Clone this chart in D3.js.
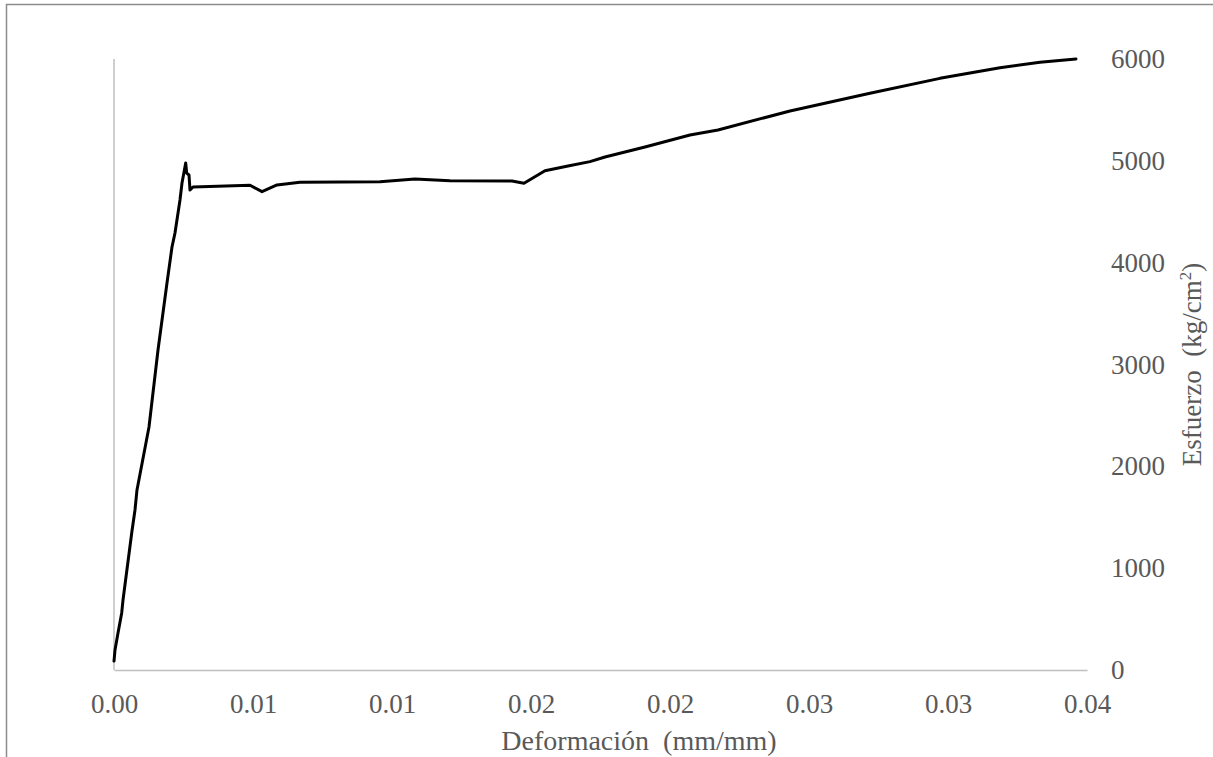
<!DOCTYPE html>
<html>
<head>
<meta charset="utf-8">
<script src="https://cdn.jsdelivr.net/npm/d3@7"></script>
<style>
  html, body { margin: 0; padding: 0; background: #fff; }
  svg { display: block; }
</style>
</head>
<body>
<script>
// ---- Data ----
const strain = [0, 0.000036, 0.000144, 0.000277, 0.000324, 0.000637, 0.000755, 0.000827, 0.001259, 0.001583,
  0.001906, 0.002086, 0.002194, 0.002374, 0.002446, 0.002579, 0.002615, 0.002698, 0.002734, 0.002842,
  0.004892, 0.005324, 0.005863, 0.006690, 0.009568, 0.010827, 0.012086, 0.014316, 0.014748, 0.015503,
  0.016331, 0.017121, 0.017661, 0.019100, 0.020719, 0.021726, 0.024316, 0.027193, 0.029711, 0.031870,
  0.033309, 0.034603];
const stress = [88, 196, 363, 560, 687, 1345, 1571, 1768, 2386, 3142,
  3800, 4154, 4291, 4615, 4782, 4979, 4880, 4861, 4713, 4743,
  4760, 4697, 4763, 4789, 4795, 4822, 4805, 4802, 4779, 4903,
  4949, 4992, 5038, 5136, 5254, 5303, 5490, 5663, 5810, 5915,
  5968, 6000];
const xTickValues = [0, 0.005, 0.010, 0.015, 0.020, 0.025, 0.030, 0.035];
const xTickLabels = ["0.00", "0.01", "0.01", "0.02", "0.02", "0.03", "0.03", "0.04"];
const yTickValues = [0, 1000, 2000, 3000, 4000, 5000, 6000];
const yTickLabels = ["0", "1000", "2000", "3000", "4000", "5000", "6000"];
const xTitle = "Deformación  (mm/mm)";
const yTitleMain = "Esfuerzo  (kg/cm";
const yTitleSup = "2";
const yTitleEnd = ")";

// ---- Layout ----
const W = 1213, H = 757;
const mLeft = 114, mRight = 1087, mTop = 59, mBottom = 670;
const font = "'Liberation Serif', 'Times New Roman', serif";
const labelColor = "#595959";

const svg = d3.select("body").append("svg").attr("width", W).attr("height", H);

// chart frame
svg.append("rect").attr("x", 6.5).attr("y", 4.5).attr("width", W + 20).attr("height", H + 20)
  .attr("fill", "none").attr("stroke", "#8c8c8c").attr("stroke-width", 1.5);

const x = d3.scaleLinear().domain([0, 0.035]).range([mLeft, mRight]);
const y = d3.scaleLinear().domain([0, 6000]).range([mBottom, mTop]);

// x axis (line at y=0)
const xAxis = d3.axisBottom(x).tickValues(xTickValues)
  .tickFormat((d, i) => xTickLabels[i]).tickSize(0).tickPadding(24);
const gx = svg.append("g").attr("transform", `translate(0,${mBottom})`).call(xAxis);
gx.select(".domain").attr("stroke", "#bfbfbf").attr("stroke-width", 1.5);
gx.selectAll("text").attr("font-family", font).attr("font-size", 27).attr("fill", labelColor);

// vertical line at x=0
svg.append("line").attr("x1", x(0)).attr("x2", x(0)).attr("y1", y(6000)).attr("y2", y(0))
  .attr("stroke", "#bfbfbf").attr("stroke-width", 1.5);

// y axis labels on the right
const yAxis = d3.axisRight(y).tickValues(yTickValues)
  .tickFormat((d, i) => yTickLabels[i]).tickSize(0).tickPadding(24);
const gy = svg.append("g").attr("transform", `translate(${mRight},0)`).call(yAxis);
gy.select(".domain").remove();
gy.selectAll("text").attr("font-family", font).attr("font-size", 27).attr("fill", labelColor);

// line
const data = strain.map((s, i) => [s, stress[i]]);
svg.append("path").datum(data)
  .attr("fill", "none").attr("stroke", "#000").attr("stroke-width", 3)
  .attr("stroke-linejoin", "round").attr("stroke-linecap", "round")
  .attr("d", d3.line().x(d => x(d[0])).y(d => y(d[1])));

// axis titles
svg.append("text").attr("x", 639).attr("y", 750)
  .attr("text-anchor", "middle").attr("font-family", font).attr("font-size", 28)
  .attr("fill", labelColor).style("white-space", "pre").text(xTitle);

const yt = svg.append("text")
  .attr("transform", `translate(1201,${(mTop + mBottom) / 2}) rotate(-90)`)
  .attr("text-anchor", "middle").attr("font-family", font).attr("font-size", 27)
  .attr("fill", labelColor).style("white-space", "pre");
yt.append("tspan").text(yTitleMain);
yt.append("tspan").attr("font-size", 17).attr("dy", -10).text(yTitleSup);
yt.append("tspan").attr("dy", 10).text(yTitleEnd);
</script>
</body>
</html>
